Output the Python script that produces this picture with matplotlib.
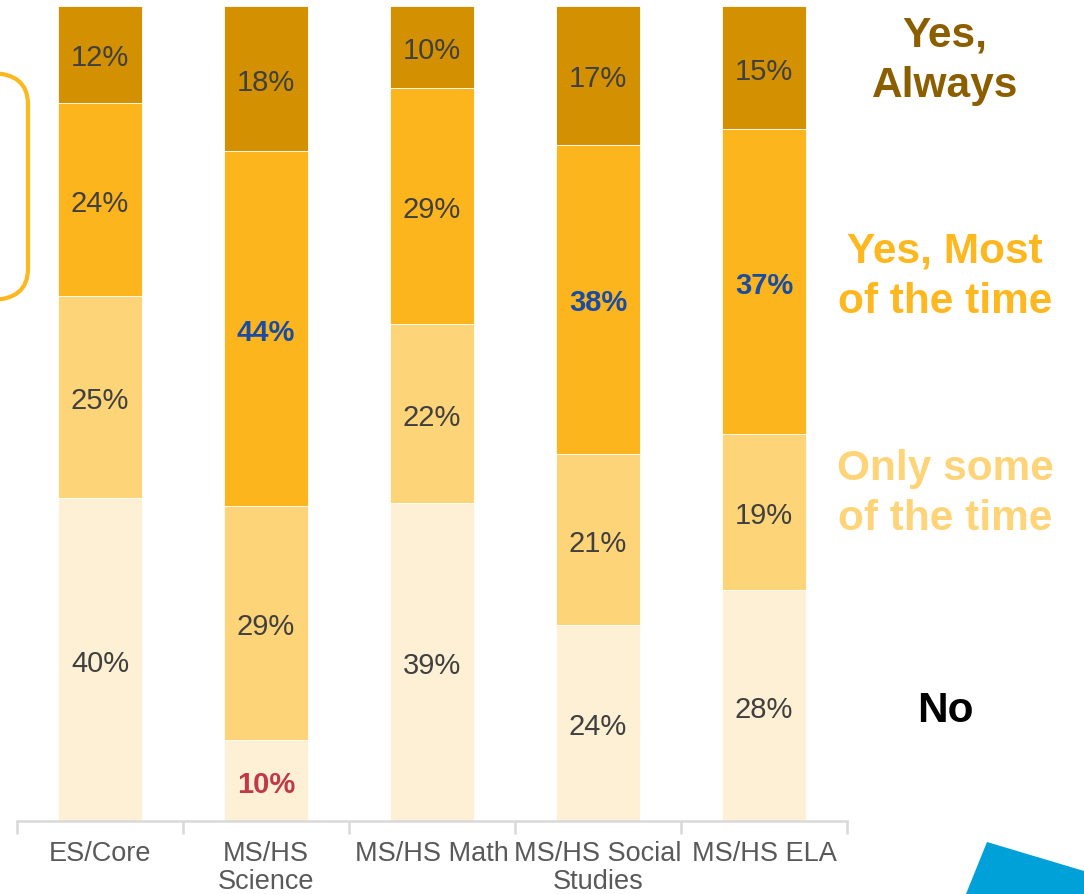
import numpy as np
import matplotlib
matplotlib.use('Agg')
import matplotlib.pyplot as plt
from matplotlib.patches import FancyBboxPatch, Polygon

plt.rcParams['font.family'] = ['Liberation Sans', 'DejaVu Sans']

# data, bottom to top of each bar
categories = ['ES/Core', 'MS/HS\nScience', 'MS/HS Math', 'MS/HS Social\nStudies', 'MS/HS ELA']
no = [40, 10, 39, 24, 28]
only_some = [25, 29, 22, 21, 19]
most = [24, 44, 29, 38, 37]
always = [12, 18, 10, 17, 15]
series_names = ['No', 'Only some\nof the time', 'Yes, Most\nof the time', 'Yes,\nAlways']

seg_colors = ['#FEF0D4', '#FED478', '#FDB51E', '#D39000']
legend_colors = ['#000000', '#FED478', '#FDB71F', '#8B5E00']

# highlighted labels: (series index, category index) -> colour
highlight = {(0, 1): '#C0394B', (2, 1): '#1A4DA1', (2, 3): '#1A4DA1', (2, 4): '#1A4DA1'}

data = np.array([no, only_some, most, always], dtype=float)
totals = data.sum(axis=0)
scaled = data / totals * 100

fig = plt.figure(figsize=(10.84, 8.95), dpi=100)
fig.patch.set_facecolor('white')
ax = fig.add_axes([17/1084, 1-822/895, (847-17)/1084, (822-7)/895])

x = np.arange(len(categories))
bottom = np.zeros(len(categories))
for i in range(4):
    ax.bar(x, scaled[i], 0.505, bottom=bottom, color=seg_colors[i], edgecolor='white', linewidth=0.6)
    for j in range(len(categories)):
        yc = bottom[j] + scaled[i][j]/2
        col = highlight.get((i, j), '#404040')
        fw = 'bold' if (i, j) in highlight else 'normal'
        ax.text(x[j], yc, '%d%%' % data[i][j], ha='center', va='center_baseline', fontsize=21, color=col, fontweight=fw)
    bottom += scaled[i]

ax.set_xlim(-0.5, 4.5)
ax.set_ylim(0, 100)
for s in ['top', 'right', 'left']:
    ax.spines[s].set_visible(False)
ax.spines['bottom'].set_color('#D9D9D9')
ax.spines['bottom'].set_linewidth(1.8)
ax.set_yticks([])
ax.set_xticks(x)
ax.set_xticklabels(categories, fontsize=19.5, color='#595959', linespacing=1.1)
ax.tick_params(axis='x', which='major', length=0, pad=14)
ax.set_xticks(np.arange(-0.5, 5, 1), minor=True)
ax.tick_params(axis='x', which='minor', length=9, width=1.8, color='#D9D9D9')

# right side legend text
legend_y = [711, 494, 277, 61]
for i in range(4):
    fig.text(945/1084, 1-legend_y[i]/895, series_names[i], ha='center', va='center', fontsize=30.5,
             fontweight='bold', color=legend_colors[i], linespacing=1.33)

# orange rounded frame cut off at the left
frame = FancyBboxPatch((-60/1084, 1-301/895), 88/1084, 227/895,
                       boxstyle='round,pad=0,rounding_size=0.035', transform=fig.transFigure,
                       facecolor='none', edgecolor='#FDB71F', linewidth=3)
fig.patches.append(frame)

# blue shape in lower right corner
pts = [(987, 843), (1084, 872), (1084, 895), (966, 895)]
blue = Polygon([(px/1084, 1-py/895) for px, py in pts], closed=True, transform=fig.transFigure,
               facecolor='#00A0D8', edgecolor='none')
fig.patches.append(blue)

fig.savefig('out.png', dpi=100)
